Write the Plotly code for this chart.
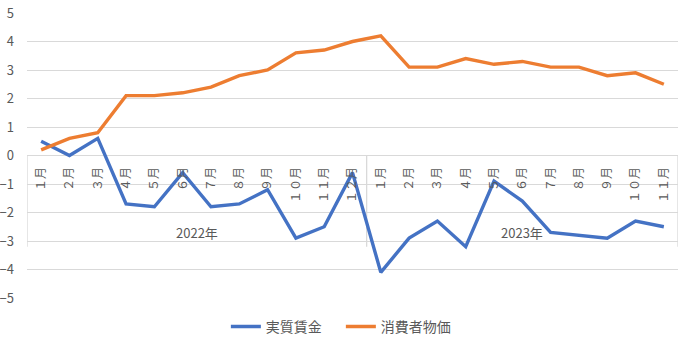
import plotly.graph_objects as go

years = ["2022年", "2023年"]
months_2022 = ["１月", "２月", "３月", "４月", "５月", "６月", "７月", "８月", "９月", "１０月", "１１月", "１２月"]
months_2023 = ["１月", "２月", "３月", "４月", "５月", "６月", "７月", "８月", "９月", "１０月", "１１月"]
month_labels = months_2022 + months_2023

real_wage = [0.5, 0.0, 0.6, -1.7, -1.8, -0.6, -1.8, -1.7, -1.2, -2.9, -2.5, -0.6,
             -4.1, -2.9, -2.3, -3.2, -0.9, -1.6, -2.7, -2.8, -2.9, -2.3, -2.5]
cpi = [0.2, 0.6, 0.8, 2.1, 2.1, 2.2, 2.4, 2.8, 3.0, 3.6, 3.7, 4.0,
       4.2, 3.1, 3.1, 3.4, 3.2, 3.3, 3.1, 3.1, 2.8, 2.9, 2.5]

series_names = ["実質賃金", "消費者物価"]
colors = ["#4472C4", "#ED7D31"]
y_ticks = [5, 4, 3, 2, 1, 0, -1, -2, -3, -4, -5]

FONT = "Noto Sans CJK JP"
GRAY = "#595959"
GRID = "#D9D9D9"

idx = list(range(len(month_labels)))
n1 = len(months_2022)
n = len(month_labels)

fig = go.Figure()
for name, vals, c in zip(series_names, [real_wage, cpi], colors):
    fig.add_trace(go.Scatter(x=idx, y=vals, mode="lines", name=name,
                             line=dict(color=c, width=3.4)))

# group dividers
for xv in [-0.5, n1 - 0.5, n - 0.5]:
    fig.add_shape(type="line", xref="x", yref="y", x0=xv, x1=xv, y0=0, y1=-3.2,
                  line=dict(color=GRID, width=1.3), layer="below")

# year labels
group_centers = [(-0.5 + n1 - 0.5) / 2, (n1 - 0.5 + n - 0.5) / 2]
for yr, cx in zip(years, group_centers):
    fig.add_annotation(x=cx, y=-2.7, xref="x", yref="y", text=yr, showarrow=False,
                       font=dict(family=FONT, size=13, color=GRAY),
                       xanchor="center", yanchor="middle")

fig.update_layout(
    width=690, height=353,
    margin=dict(l=27, r=12, t=13, b=55),
    paper_bgcolor="white", plot_bgcolor="white",
    font=dict(family=FONT, color=GRAY),
    showlegend=True,
    legend=dict(orientation="h", xref="container", yref="container",
                x=0.494, xanchor="center", y=0.074, yanchor="middle",
                font=dict(family=FONT, size=14, color=GRAY),
                itemwidth=30, tracegroupgap=0, entrywidth=70,
                entrywidthmode="pixels"),
    xaxis=dict(range=[-0.5, n - 0.5], tickvals=idx, ticktext=month_labels,
               tickangle=-90, showgrid=False, zeroline=False, showline=False,
               ticks="", anchor="free", position=0.5, ticklabelstandoff=8,
               automargin=False,
               tickfont=dict(family=FONT, size=12, color=GRAY)),
    yaxis=dict(range=[-5, 5], tickvals=y_ticks, showgrid=True, gridcolor=GRID,
               gridwidth=1.3, zeroline=True, zerolinecolor=GRID, zerolinewidth=1.3,
               ticks="", showline=False, ticklabelstandoff=12, automargin=False,
               tickfont=dict(family=FONT, size=13, color=GRAY)),
)

fig.write_html("out.html")
